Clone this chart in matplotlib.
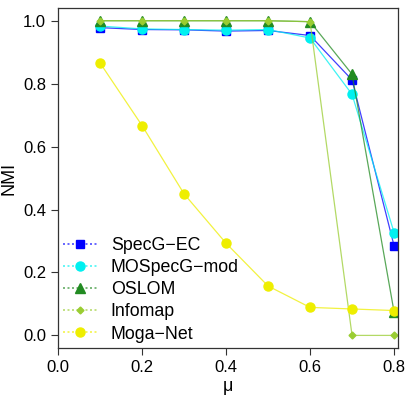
import matplotlib
matplotlib.use('Agg')
import matplotlib.pyplot as plt
from matplotlib.lines import Line2D
from matplotlib.colors import to_rgba

plt.rcParams['font.family'] = ['Liberation Sans', 'DejaVu Sans']

mu = [0.1, 0.2, 0.3, 0.4, 0.5, 0.6, 0.7, 0.8]
specg_ec = [0.978, 0.972, 0.971, 0.967, 0.969, 0.953, 0.812, 0.285]
mospecg_mod = [0.983, 0.974, 0.972, 0.970, 0.972, 0.945, 0.766, 0.327]
oslom = [1.0, 1.0, 1.0, 1.0, 1.0, 0.997, 0.830, 0.075]
infomap = [1.0, 1.0, 1.0, 1.0, 1.0, 0.997, 0.0, 0.0]
moga_net = [0.866, 0.667, 0.450, 0.293, 0.157, 0.089, 0.084, 0.079]

names = ['SpecG\u2212EC', 'MOSpecG\u2212mod', 'OSLOM', 'Infomap', 'Moga\u2212Net']
series = [specg_ec, mospecg_mod, oslom, infomap, moga_net]
colors = ['#0000ff', '#00f0f0', '#228b22', '#9acd32', '#eeee00']
markers = ['s', 'o', '^', 'D', 'o']
msizes = [5.5, 6.5, 6.5, 3.5, 6.5]

fig = plt.figure(figsize=(4.07, 4.07), dpi=100)
ax = fig.add_axes([0.1425, 0.145, 0.8355, 0.835])

for y, c, m, s in zip(series, colors, markers, msizes):
    ax.plot(mu, y, color=c, lw=0.9, alpha=0.75)
    ax.plot(mu, y, ls='none', marker=m, ms=s, color=c, mec=c)

ax.set_xlim(0, 0.8095)
ax.set_ylim(-0.04, 1.04)
ax.set_xticks([0.0, 0.2, 0.4, 0.6, 0.8])
ax.set_yticks([0.0, 0.2, 0.4, 0.6, 0.8, 1.0])
ax.set_xticklabels(['0.0', '0.2', '0.4', '0.6', '0.8'])
ax.set_yticklabels(['0.0', '0.2', '0.4', '0.6', '0.8', '1.0'])
ax.tick_params(direction='out', length=5, width=0.8, labelsize=12, colors='#333333', labelcolor='black')
for sp in ax.spines.values():
    sp.set_color('#333333')
    sp.set_linewidth(0.9)
ax.set_xlabel('\u03bc', fontsize=13, labelpad=2)
ax.set_ylabel('NMI', fontsize=13, labelpad=4)

handles = [Line2D([0], [0], color=to_rgba(c, 0.7), lw=1.2, ls=(0, (1.2, 1.5)),
                  marker=m, ms=s, mfc=c, mec=c)
           for c, m, s in zip(colors, markers, msizes)]
ax.legend(handles, names, loc='upper left', bbox_to_anchor=(-0.012, 0.353), frameon=False,
          fontsize=12.8, handlelength=1.9, handletextpad=0.8, labelspacing=0.29, borderaxespad=0.1)

fig.savefig('out.png', dpi=100)
